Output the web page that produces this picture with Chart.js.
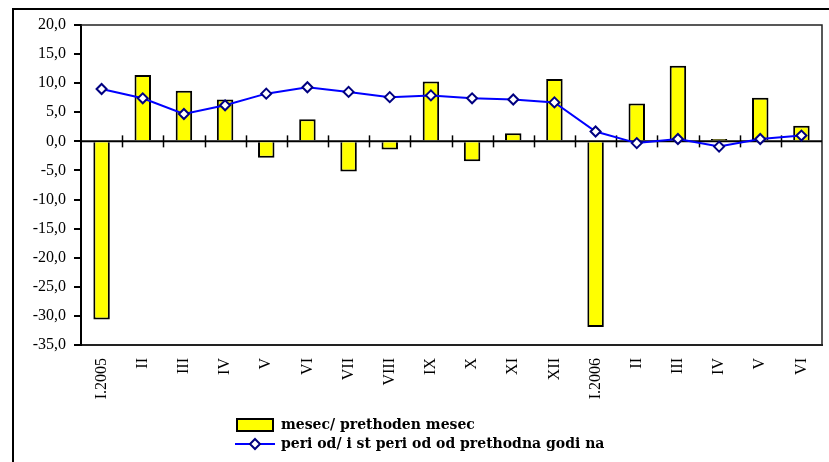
<!DOCTYPE html>
<html>
<head>
<meta charset="utf-8">
<script src="https://cdn.jsdelivr.net/npm/chart.js@4/dist/chart.umd.min.js"></script>
<style>
  html, body { margin: 0; padding: 0; background: #fff; }
  #wrap { position: relative; width: 829px; height: 462px; }
</style>
</head>
<body>
<div id="wrap"><canvas id="c" width="829" height="462"></canvas></div>
<script>
const categories = ['I.2005','II','III','IV','V','VI','VII','VIII','IX','X','XI','XII','I.2006','II','III','IV','V','VI'];
const monthOnMonth = [-30.6, 11.4, 8.7, 7.2, -2.8, 3.8, -5.2, -1.4, 10.3, -3.4, 1.4, 10.7, -31.9, 6.5, 13.0, 0.4, 7.5, 2.7];
const periodOnPeriod = [9.0, 7.4, 4.7, 6.2, 8.2, 9.3, 8.5, 7.6, 7.9, 7.4, 7.2, 6.7, 1.7, -0.3, 0.4, -0.9, 0.4, 1.0];
const seriesNames = ['mesec/ prethoden mesec', 'peri od/ i st peri od od prethodna godi na'];
const yTicks = { min: -35, max: 20, step: 5 };

// legend symbol images
function makeBarSymbol() {
  const c = document.createElement('canvas'); c.width = 38; c.height = 14;
  const x = c.getContext('2d');
  x.fillStyle = '#FFFF00'; x.fillRect(1, 1, 36, 12);
  x.strokeStyle = '#000'; x.lineWidth = 2; x.strokeRect(1, 1, 36, 12);
  return c;
}
function makeLineSymbol() {
  const c = document.createElement('canvas'); c.width = 40; c.height = 14;
  const x = c.getContext('2d');
  x.strokeStyle = '#0000FF'; x.lineWidth = 2;
  x.beginPath(); x.moveTo(0, 7); x.lineTo(40, 7); x.stroke();
  x.beginPath(); x.moveTo(20, 2); x.lineTo(25, 7); x.lineTo(20, 12); x.lineTo(15, 7); x.closePath();
  x.fillStyle = '#fff'; x.fill(); x.strokeStyle = '#000080'; x.lineWidth = 2; x.stroke();
  return c;
}
const barSym = makeBarSymbol(), lineSym = makeLineSymbol();

const framePlugin = {
  id: 'frame',
  beforeDraw(chart) {
    const ctx = chart.ctx;
    ctx.save();
    ctx.strokeStyle = '#000'; ctx.lineWidth = 2;
    ctx.strokeRect(13, 9, 830, 460);
    ctx.restore();
  },
  beforeDatasetsDraw(chart) {
    const ctx = chart.ctx, a = chart.chartArea;
    const xs = chart.scales.x, ys = chart.scales.y;
    ctx.save();
    // plot box (top/right)
    ctx.strokeStyle = '#222'; ctx.lineWidth = 1.5;
    ctx.beginPath();
    ctx.moveTo(a.left, a.top); ctx.lineTo(a.right, a.top); ctx.lineTo(a.right, a.bottom);
    ctx.stroke();
    // zero line with crossing ticks
    const y0 = ys.getPixelForValue(0);
    ctx.strokeStyle = '#000'; ctx.lineWidth = 2;
    ctx.beginPath(); ctx.moveTo(a.left, y0); ctx.lineTo(a.right, y0); ctx.stroke();
    const half = (xs.getPixelForValue(1) - xs.getPixelForValue(0)) / 2;
    ctx.lineWidth = 1.5;
    for (let i = 0; i < categories.length - 1; i++) {
      const px = Math.round(xs.getPixelForValue(i) + half) + 0.5;
      ctx.beginPath(); ctx.moveTo(px, y0 - 6); ctx.lineTo(px, y0 + 6); ctx.stroke();
    }
    ctx.restore();
  },
  afterLayout(chart) {
    const lg = chart.legend;
    if (lg) { lg.left = 231; lg.top = 413; lg.right = 829; lg.bottom = 462; }
  }
};

new Chart(document.getElementById('c'), {
  data: {
    labels: categories,
    datasets: [
      {
        type: 'bar', label: seriesNames[0], data: monthOnMonth, order: 2,
        backgroundColor: '#FFFF00', borderColor: '#000', borderWidth: 2,
        barPercentage: 0.4, categoryPercentage: 1
      },
      {
        type: 'line', label: seriesNames[1], data: periodOnPeriod, order: 1,
        borderColor: '#0000FF', borderWidth: 2, tension: 0,
        pointStyle: 'rectRot', pointRadius: 5, pointBorderWidth: 2,
        pointBackgroundColor: '#fff', pointBorderColor: '#000080'
      }
    ]
  },
  options: {
    responsive: false, animation: false,
    layout: { padding: { left: 0, right: 6, top: 25, bottom: 0 } },
    plugins: {
      tooltip: { enabled: false },
      legend: {
        position: 'chartArea', align: 'start',
        labels: {
          usePointStyle: true, pointStyleWidth: 38, boxHeight: 14, padding: 5,
          color: '#000', font: { family: 'DejaVu Serif', weight: 'bold', size: 14 },
          generateLabels: () => [
            { text: seriesNames[0], pointStyle: barSym, fillStyle: '#FFFF00', strokeStyle: '#000', lineWidth: 0, datasetIndex: 0, hidden: false },
            { text: seriesNames[1], pointStyle: lineSym, fillStyle: '#fff', strokeStyle: '#0000FF', lineWidth: 0, datasetIndex: 1, hidden: false }
          ]
        }
      }
    },
    scales: {
      x: {
        type: 'category', offset: true,
        grid: { display: false, drawTicks: false },
        border: { display: true, color: '#222', width: 2 },
        ticks: { minRotation: 90, maxRotation: 90, autoSkip: false, padding: 13, color: '#000',
                 font: { family: 'Liberation Serif', size: 16 } },
        afterFit(s) { s.height = 117; s.paddingLeft = 0; s.paddingRight = 0; }
      },
      y: {
        type: 'linear', min: yTicks.min, max: yTicks.max,
        grid: { drawOnChartArea: false, drawTicks: true, tickLength: 7, color: '#000', lineWidth: 2 },
        border: { display: true, color: '#000', width: 2 },
        ticks: { stepSize: yTicks.step, padding: 8, color: '#000',
                 font: { family: 'Liberation Serif', size: 16 },
                 callback: v => v.toFixed(1).replace('.', ',') },
        afterFit(s) { s.width = 81; s.paddingTop = 0; s.paddingBottom = 0; }
      }
    }
  },
  plugins: [framePlugin]
});
</script>
</body>
</html>
